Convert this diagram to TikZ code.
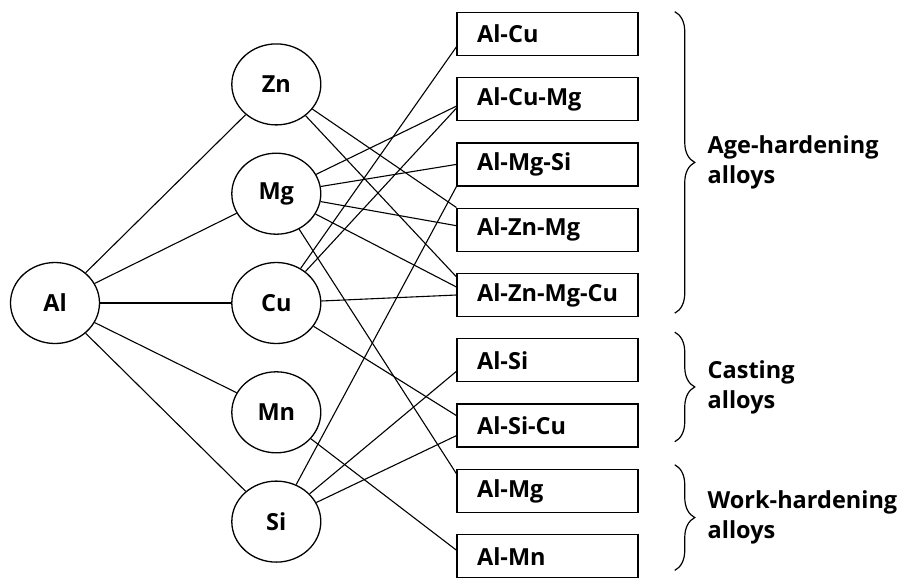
\documentclass[tikz,border=0pt]{standalone}
\usepackage{fontspec}
\setmainfont{Open Sans}
\usetikzlibrary{positioning,shapes.geometric,decorations.pathreplacing}

\begin{document}
\begin{tikzpicture}[
  x=1pt,y=-1pt,
  node distance=21pt,
  font=\fontsize{23.5}{30}\selectfont\bfseries,
  el/.style={draw,ellipse,line width=1.3pt,minimum width=89pt,minimum height=81pt,inner sep=0pt},
  box/.style={draw,rectangle,line width=1.3pt,minimum height=43pt,text width=141pt,inner xsep=20pt,inner ysep=0pt,align=left},
  ln/.style={line width=1.1pt},
  br/.style={decorate,decoration={brace,amplitude=20pt},line width=1.2pt},
  lab/.style={align=left,anchor=west,xshift=29pt}
]
\useasboundingbox (0,0) rectangle (902,582);
% elements
\node[el] (al) at (55,303) {Al};
\node[el,right=131pt of al] (cu) {Cu};
\node[el,above=27pt of cu] (mg) {Mg};
\node[el,above=27pt of mg] (zn) {Zn};
\node[el,below=27pt of cu] (mn) {Mn};
\node[el,below=27pt of mn] (si) {Si};
% alloys
\node[box,right=135pt of cu,yshift=8pt] (alznmgcu) {Al-Zn-Mg-Cu};
\node[box,above=of alznmgcu] (alznmg) {Al-Zn-Mg};
\node[box,above=of alznmg] (almgsi) {Al-Mg-Si};
\node[box,above=of almgsi] (alcumg) {Al-Cu-Mg};
\node[box,above=of alcumg] (alcu) {Al-Cu};
\node[box,below=of alznmgcu] (alsi) {Al-Si};
\node[box,below=of alsi] (alsicu) {Al-Si-Cu};
\node[box,below=of alsicu] (almg) {Al-Mg};
\node[box,below=of almg] (almn) {Al-Mn};
% Al to the elements
\foreach \e in {zn,mg,cu,mn,si} \draw[ln] (al) -- (\e);
% elements to alloys
\draw[ln] (zn) -- (alznmg.north west);
\draw[ln] (zn) -- ([yshift=-4pt]alznmgcu.north west);
\draw[ln] (mg) -- ([yshift=-7pt]alcumg.west);
\draw[ln] (mg) -- (almgsi.west);
\draw[ln] (mg) -- ([yshift=4pt]alznmg.west);
\draw[ln] (mg) -- ([yshift=8pt]alznmgcu.west);
\draw[ln] (mg) -- ([yshift=-5pt]almg.north west);
\draw[ln] (cu) -- ([yshift=-13pt]alcu.west);
\draw[ln] (cu) -- ([yshift=-9pt]alcumg.west);
\draw[ln] (cu) -- (alznmgcu.west);
\draw[ln] (cu) -- ([yshift=10pt]alsicu.west);
\draw[ln] (mn) -- ([yshift=6pt]almn.west);
\draw[ln] (si) -- (almgsi.south west);
\draw[ln] (si) -- ([yshift=-11pt]alsi.west);
\draw[ln] (si) -- ([yshift=-10pt]alsicu.west);
% groups
\draw[br] ([xshift=36pt]alcu.north east) -- ([xshift=36pt,yshift=4pt]alznmgcu.south east)
  node[lab,midway] {Age-hardening\\alloys};
\draw[br] ([xshift=36pt,yshift=6pt]alsi.north east) -- ([xshift=36pt,yshift=6pt]alsicu.south east)
  node[lab,midway] {Casting\\alloys};
\draw[br] ([xshift=36pt,yshift=4pt]almg.north east) -- ([xshift=36pt,yshift=8pt]almn.south east)
  node[lab,midway] {Work-hardening\\alloys};
\end{tikzpicture}
\end{document}
